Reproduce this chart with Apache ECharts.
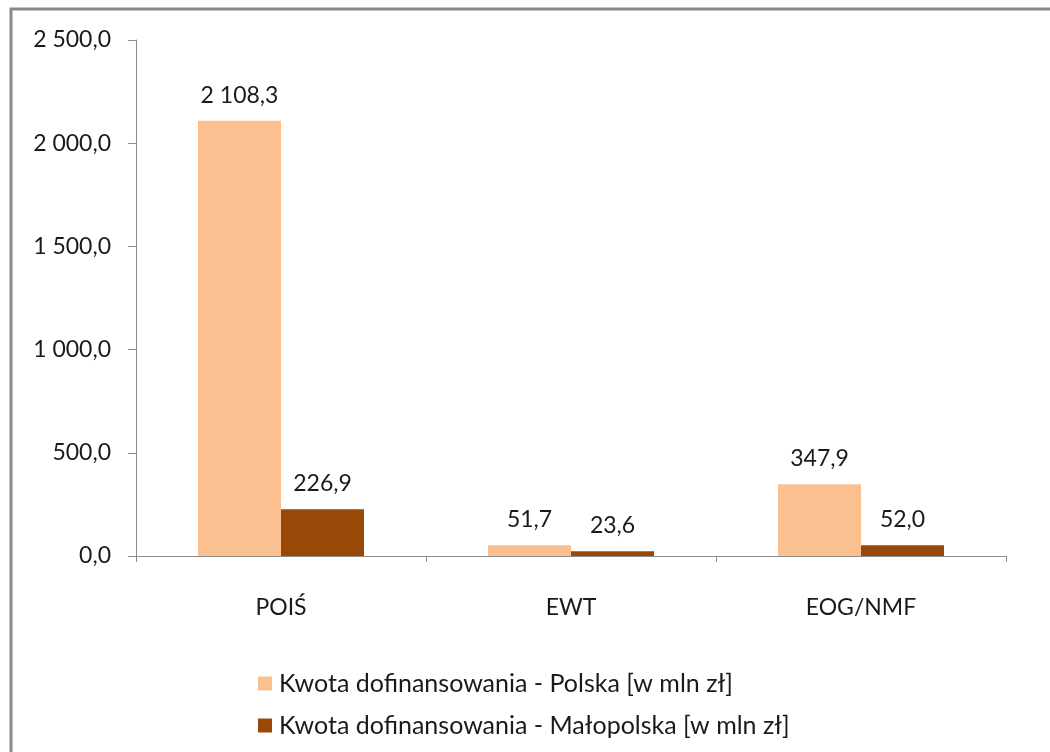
<!DOCTYPE html>
<html>
<head>
<meta charset="utf-8">
<script src="https://cdn.jsdelivr.net/npm/echarts@6/dist/echarts.min.js"></script>
<style>
html,body{margin:0;padding:0;background:#fff;}
#chart{width:1050px;height:752px;}
</style>
</head>
<body>
<div id="chart"></div>
<script>
const categories = ['POIŚ', 'EWT', 'EOG/NMF'];
const seriesNames = ['Kwota dofinansowania - Polska [w mln zł]', 'Kwota dofinansowania - Małopolska [w mln zł]'];
const polska = [2108.3, 51.7, 347.9];
const malopolska = [226.9, 23.6, 52.0];
const yTicks = { min: 0, max: 2500, interval: 500 };

function fmt(v) {
  const s = Number(v).toFixed(1).split('.');
  const intPart = s[0].replace(/\B(?=(\d{3})+(?!\d))/g, ' ');
  return intPart + ',' + s[1];
}

const font = 'Lato, "Open Sans", sans-serif';
const chart = echarts.init(document.getElementById('chart'));
const labelCfg = { show: true, position: 'top', distance: 14, color: '#1a1a1a', fontSize: 23, fontFamily: font, formatter: p => fmt(p.value) };
chart.setOption({
  animation: false,
  graphic: [
    { type: 'rect', shape: { x: 11, y: 9, width: 1200, height: 900 }, style: { fill: 'none', stroke: '#8a8a8a', lineWidth: 3 } }
  ],
  grid: { left: 136, right: 44, top: 40, bottom: 196 },
  legend: {
    orient: 'vertical', left: 253, top: 666, itemWidth: 14, itemHeight: 14, itemGap: 17,
    icon: 'rect',
    textStyle: { fontSize: 25, color: '#1a1a1a', fontFamily: font, padding: [0, 0, 0, 2] },
    data: seriesNames
  },
  xAxis: {
    type: 'category', data: categories,
    axisLine: { lineStyle: { color: '#8c8c8c', width: 1 } },
    axisTick: { show: true, length: 6, lineStyle: { color: '#8c8c8c' } },
    axisLabel: { color: '#1a1a1a', fontSize: 23, fontFamily: font, margin: 40 }
  },
  yAxis: {
    type: 'value', min: yTicks.min, max: yTicks.max, interval: yTicks.interval,
    splitLine: { show: false },
    axisLine: { show: true, lineStyle: { color: '#8c8c8c', width: 1 } },
    axisTick: { show: true, length: 8, lineStyle: { color: '#8c8c8c' } },
    axisLabel: { color: '#1a1a1a', fontSize: 23, fontFamily: font, margin: 25, formatter: v => fmt(v) }
  },
  series: [
    { name: seriesNames[0], type: 'bar', data: polska, barWidth: 83, barGap: '0%', itemStyle: { color: '#FAC090' }, label: labelCfg },
    { name: seriesNames[1], type: 'bar', data: malopolska, barWidth: 83, barGap: '0%', itemStyle: { color: '#984807' }, label: labelCfg }
  ]
});
</script>
</body>
</html>
